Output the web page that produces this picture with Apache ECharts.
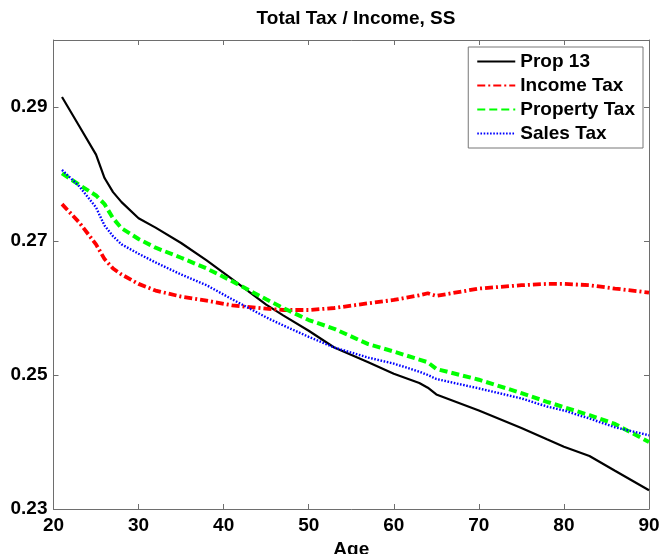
<!DOCTYPE html>
<html>
<head>
<meta charset="utf-8">
<script src="https://cdn.jsdelivr.net/npm/echarts@6/dist/echarts.min.js"></script>
<style>html,body{margin:0;padding:0;background:#fff;}#c{width:660px;height:554px;}</style>
</head>
<body>
<div id="c"></div>
<script>
const ages = [21,23,25,26,27,28,30,32,35,38,41,45,47,50,53,57,60,63,64,65,70,75,78,80,83,86,90];
const prop13 = [0.2915,0.2872,0.2829,0.2794,0.2773,0.2758,0.2734,0.2720,0.2697,0.2671,0.2643,0.2605,0.2589,0.2566,0.2541,0.2519,0.2502,0.2488,0.2481,0.2471,0.2447,0.2421,0.2404,0.2393,0.2379,0.2357,0.2328];
const incomeTax = [0.2755,0.2728,0.2695,0.2673,0.2659,0.2650,0.2636,0.2626,0.2617,0.2611,0.2604,0.2599,0.2597,0.2597,0.2600,0.2607,0.2612,0.2619,0.2622,0.2618,0.2629,0.2634,0.2636,0.2636,0.2634,0.2629,0.2623];
const propertyTax = [0.2801,0.2784,0.2768,0.2755,0.2734,0.2719,0.2703,0.2690,0.2675,0.2659,0.2640,0.2613,0.2600,0.2582,0.2569,0.2546,0.2535,0.2523,0.2519,0.2509,0.2493,0.2473,0.2460,0.2452,0.2440,0.2427,0.2400];
const salesTax = [0.2806,0.2782,0.2750,0.2723,0.2707,0.2695,0.2681,0.2668,0.2650,0.2634,0.2613,0.2586,0.2574,0.2557,0.2541,0.2526,0.2517,0.2505,0.2500,0.2494,0.2480,0.2465,0.2453,0.2447,0.2435,0.2422,0.2410];
const yTicks = [0.23,0.25,0.27,0.29];
const xTicks = [20,30,40,50,60,70,80,90];
const seriesNames = ['Prop 13','Income Tax','Property Tax','Sales Tax'];

const pair = arr => ages.map((a,i)=>[a,arr[i]]);
const FONT = '"Liberation Sans", Arial, sans-serif';
const axisGray = '#6e6e6e';

const chart = echarts.init(document.getElementById('c'), null, {renderer:'canvas'});
const xBase = {
  type:'value', min:20, max:90, interval:10,
  axisLine:{show:true, lineStyle:{color:axisGray, width:1}},
  axisTick:{show:true, inside:true, length:5, lineStyle:{color:axisGray}},
  splitLine:{show:false}
};
const yBase = {
  type:'value', min:0.23, max:0.30, interval:0.01,
  axisLine:{show:true, lineStyle:{color:axisGray, width:1}},
  axisTick:{show:true, inside:true, length:5, customValues:yTicks, lineStyle:{color:axisGray}},
  splitLine:{show:false}
};
chart.setOption({
  animation:false,
  backgroundColor:'#fff',
  textStyle:{fontFamily:FONT},
  title:{
    text:'Total Tax / Income, SS', left:351, top:4, textAlign:'center',
    textStyle:{fontFamily:FONT, fontSize:19, fontWeight:'bold', color:'#000'}
  },
  grid:{left:53.5, right:11, top:40, bottom:45, containLabel:false, outerBoundsMode:'none'},
  legend:{
    orient:'vertical', right:17, top:47,
    data:seriesNames,
    backgroundColor:'#fff', borderColor:'#777', borderWidth:1,
    padding:[5,8,5,8], itemWidth:38, itemHeight:14, itemGap:5,
    itemStyle:{opacity:0},
    textStyle:{fontFamily:FONT, fontSize:19, fontWeight:'bold', color:'#000', lineHeight:19, padding:[0,0,0,0]}
  },
  xAxis:[
    Object.assign({}, xBase, {
      position:'bottom', name:'Age', nameLocation:'middle', nameGap:29,
      nameTextStyle:{fontFamily:FONT, fontSize:19, fontWeight:'bold', color:'#000'},
      axisLabel:{show:true, margin:7, color:'#000', fontFamily:FONT, fontSize:19, fontWeight:'bold'}
    }),
    Object.assign({}, xBase, {position:'top', axisLabel:{show:false}})
  ],
  yAxis:[
    Object.assign({}, yBase, {
      position:'left',
      axisLabel:{show:true, customValues:yTicks, margin:6, color:'#000', fontFamily:FONT, fontSize:19, fontWeight:'bold',
        formatter: v => v.toFixed(2)}
    }),
    Object.assign({}, yBase, {position:'right', axisLabel:{show:false}})
  ],
  series:[
    {name:seriesNames[0], type:'line', data:pair(prop13), symbol:'none', showSymbol:false,
     lineStyle:{color:'#000', width:2.2, type:'solid'}, itemStyle:{color:'#000'}},
    {name:seriesNames[1], type:'line', data:pair(incomeTax), symbol:'none', showSymbol:false,
     lineStyle:{color:'#ff0000', width:3.8, type:[8,3,2,3]}, itemStyle:{color:'#ff0000'}},
    {name:seriesNames[2], type:'line', data:pair(propertyTax), symbol:'none', showSymbol:false,
     lineStyle:{color:'#00ff00', width:4, type:[8,4]}, itemStyle:{color:'#00ff00'}},
    {name:seriesNames[3], type:'line', data:pair(salesTax), symbol:'none', showSymbol:false,
     lineStyle:{color:'#0000ff', width:2.4, type:[1.6,1.6]}, itemStyle:{color:'#0000ff'}}
  ]
});
</script>
</body>
</html>
